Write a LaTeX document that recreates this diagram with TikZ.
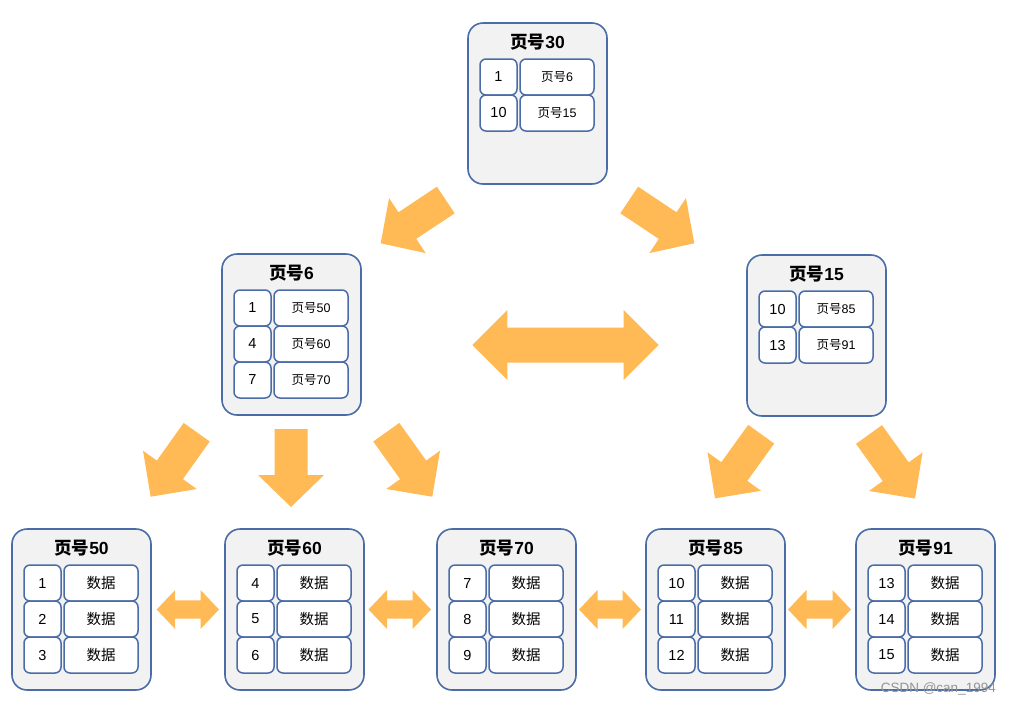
\documentclass[tikz,border=0pt]{standalone}
\usepackage{fontspec}
\setmainfont{Liberation Sans}
\newfontfamily\cjk{Noto Sans CJK SC}
\usetikzlibrary{calc}
\definecolor{boxfill}{HTML}{F2F2F2}
\definecolor{boxline}{HTML}{4A6DA8}
\definecolor{arrfill}{HTML}{FFB955}
\newcommand\cj[1]{{\cjk #1}}
\tikzset{
  outer/.style={draw=boxline, fill=boxfill, line width=1.6pt, rounded corners=15pt,
    minimum width=139pt, minimum height=161pt, inner sep=0pt},
  ptitle/.style={font=\fontsize{17.5}{20}\selectfont\bfseries, inner sep=0pt},
  keycell/.style={draw=boxline, fill=white, line width=1.5pt, rounded corners=6pt,
    minimum width=37pt, minimum height=36pt, inner sep=0pt, font=\fontsize{14.5}{16}\selectfont},
  valcell/.style={draw=boxline, fill=white, line width=1.5pt, rounded corners=6pt,
    minimum width=74pt, minimum height=36pt, inner sep=0pt, font=\fontsize{14.5}{16}\selectfont},
  ptrcell/.style={valcell, font=\fontsize{12.5}{14}\selectfont},
  arrowfill/.style={fill=arrfill, draw=none},
  wmark/.style={font=\fontsize{13.5}{15}\selectfont, text=black!42, inner sep=0pt, anchor=east}
}
% page box: name, x, y, title
\newcommand\pbox[4]{%
  \node[outer] (#1) at (#2+69.5,#3+80.5) {};
  \node[ptitle] (#1-t) at (#2+69.5,#3+19) {\cj{页号}#4};}
% row: page name, x, y, row index, key, value, value style
\newcommand\prow[7]{%
  \node[keycell] (#1-k#4) at (#2+30.5,#3+54+36*#4-36) {#5};
  \node[#7] (#1-v#4) at (#2+89,#3+54+36*#4-36) {#6};}
% block arrow: tail, tip, half shaft, half head, head length
\newcommand\barrow[5]{%
  \coordinate (hb) at ($(#2)!#5!(#1)$);
  \fill[arrowfill] ($(#1)!#3!90:(#2)$) -- ($(hb)!#3!90:(#2)$) -- ($(hb)!#4!90:(#2)$)
    -- (#2) -- ($(hb)!#4!-90:(#2)$) -- ($(hb)!#3!-90:(#2)$) -- ($(#1)!#3!-90:(#2)$) -- cycle;}
% double arrow: left tip, right tip, half shaft, half head, head length
\newcommand\dbarrow[5]{%
  \coordinate (hba) at ($(#1)!#5!(#2)$);
  \coordinate (hbb) at ($(#2)!#5!(#1)$);
  \fill[arrowfill] (#1) -- ($(hba)!#4!90:(#2)$) -- ($(hba)!#3!90:(#2)$)
    -- ($(hbb)!#3!-90:(#1)$) -- ($(hbb)!#4!-90:(#1)$) -- (#2)
    -- ($(hbb)!#4!90:(#1)$) -- ($(hbb)!#3!90:(#1)$)
    -- ($(hba)!#3!-90:(#2)$) -- ($(hba)!#4!-90:(#2)$) -- cycle;}
\begin{document}
\begin{tikzpicture}[x=1pt,y=-1pt]
\useasboundingbox (0,0) rectangle (1011,705);
% root
\pbox{p30}{468}{23}{30}
\prow{p30}{468}{23}{1}{1}{\cj{页号}6}{ptrcell}
\prow{p30}{468}{23}{2}{10}{\cj{页号}15}{ptrcell}
% level 2
\pbox{p6}{222}{254}{6}
\prow{p6}{222}{254}{1}{1}{\cj{页号}50}{ptrcell}
\prow{p6}{222}{254}{2}{4}{\cj{页号}60}{ptrcell}
\prow{p6}{222}{254}{3}{7}{\cj{页号}70}{ptrcell}
\pbox{p15}{747}{255}{15}
\prow{p15}{747}{255}{1}{10}{\cj{页号}85}{ptrcell}
\prow{p15}{747}{255}{2}{13}{\cj{页号}91}{ptrcell}
% leaves
\pbox{p50}{12}{529}{50}
\prow{p50}{12}{529}{1}{1}{\cj{数据}}{valcell}
\prow{p50}{12}{529}{2}{2}{\cj{数据}}{valcell}
\prow{p50}{12}{529}{3}{3}{\cj{数据}}{valcell}
\pbox{p60}{225}{529}{60}
\prow{p60}{225}{529}{1}{4}{\cj{数据}}{valcell}
\prow{p60}{225}{529}{2}{5}{\cj{数据}}{valcell}
\prow{p60}{225}{529}{3}{6}{\cj{数据}}{valcell}
\pbox{p70}{437}{529}{70}
\prow{p70}{437}{529}{1}{7}{\cj{数据}}{valcell}
\prow{p70}{437}{529}{2}{8}{\cj{数据}}{valcell}
\prow{p70}{437}{529}{3}{9}{\cj{数据}}{valcell}
\pbox{p85}{646}{529}{85}
\prow{p85}{646}{529}{1}{10}{\cj{数据}}{valcell}
\prow{p85}{646}{529}{2}{11}{\cj{数据}}{valcell}
\prow{p85}{646}{529}{3}{12}{\cj{数据}}{valcell}
\pbox{p91}{856}{529}{91}
\prow{p91}{856}{529}{1}{13}{\cj{数据}}{valcell}
\prow{p91}{856}{529}{2}{14}{\cj{数据}}{valcell}
\prow{p91}{856}{529}{3}{15}{\cj{数据}}{valcell}
% arrow end points
\coordinate (t30a) at (445.8,200);   \coordinate (h30a) at (380.7,243.3);
\coordinate (t30b) at (629.2,200);   \coordinate (h30b) at (694.3,243.3);
\coordinate (m1) at (472.3,345);     \coordinate (m2) at (658.7,345);
\coordinate (t6a) at (196.7,432.2);  \coordinate (h6a) at (150.7,496.7);
\coordinate (t6b) at (291,429);      \coordinate (h6b) at (291,507);
\coordinate (t6c) at (386.3,432.2);  \coordinate (h6c) at (432.3,496.7);
\coordinate (t15a) at (761.2,434.2); \coordinate (h15a) at (715,498.3);
\coordinate (t15b) at (869,434.5);   \coordinate (h15b) at (915,498.5);
\coordinate (l1a) at (156.7,609.5);  \coordinate (l1b) at (219,609.5);
\coordinate (l2a) at (368.5,609.5);  \coordinate (l2b) at (431,609.5);
\coordinate (l3a) at (579,609.5);    \coordinate (l3b) at (641,609.5);
\coordinate (l4a) at (788,609.5);    \coordinate (l4b) at (851,609.5);
% arrows
\barrow{t30a}{h30a}{16pt}{33pt}{32pt}
\barrow{t30b}{h30b}{16pt}{33pt}{32pt}
\dbarrow{m1}{m2}{17.5pt}{35pt}{35pt}
\barrow{t6a}{h6a}{16pt}{33pt}{33pt}
\barrow{t6b}{h6b}{16.5pt}{33pt}{32pt}
\barrow{t6c}{h6c}{16pt}{33pt}{33pt}
\barrow{t15a}{h15a}{16pt}{33pt}{33pt}
\barrow{t15b}{h15b}{16pt}{33pt}{33pt}
\dbarrow{l1a}{l1b}{9.2pt}{19.5pt}{18.5pt}
\dbarrow{l2a}{l2b}{9.2pt}{19.5pt}{18.5pt}
\dbarrow{l3a}{l3b}{9.2pt}{19.5pt}{18.5pt}
\dbarrow{l4a}{l4b}{9.2pt}{19.5pt}{18.5pt}
% watermark
\node[wmark] (wm) at (996,689) {CSDN @can\_1994};
\end{tikzpicture}
\end{document}
